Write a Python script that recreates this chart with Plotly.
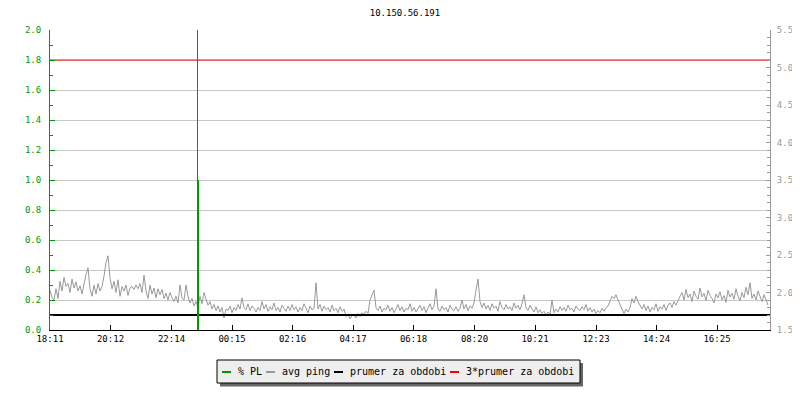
import pandas as pd
import plotly.graph_objects as go

title = "10.150.56.191"
start = "2024-01-01 18:11"
step_min = 4

# avg ping [ms], one sample every 4 minutes
avg_ping = [
    2.03, 1.93, 1.90, 2.05, 1.92,
    2.15, 2.02, 2.20, 2.08, 2.12, 2.00, 2.18, 2.06, 2.14, 2.02,
    2.09, 1.98, 2.12, 2.24, 2.33,
    2.05, 1.95, 2.10, 1.98, 2.12, 2.02, 2.08,
    2.22, 2.40, 2.49, 2.20,
    2.05, 2.15, 2.00, 2.17, 1.95, 2.08, 2.02, 2.10, 1.96,
    2.06, 2.08, 2.04, 2.10, 2.05, 2.12, 2.00, 2.23,
    2.02, 1.92, 2.10, 1.98, 2.06, 1.93, 2.05,
    1.97, 2.04, 1.92, 1.99, 1.90, 2.00, 1.93,
    1.88, 1.95, 1.86, 2.10, 1.93, 1.90,
    2.10, 1.95, 1.86, 1.92, 1.82, 1.88,
    1.80, 1.95, 1.85, 2.00, 1.90, 1.83,
    1.88, 1.78, 1.84, 1.76, 1.82, 1.74, 1.80, 1.66, 1.78, 1.76, 1.82, 1.73,
    1.80, 1.76, 1.84, 1.78, 1.93, 1.80, 1.77, 1.85, 1.76, 1.82, 1.79, 1.74, 1.80, 1.76, 1.88,
    1.78, 1.84, 1.75, 1.81, 1.77, 1.86, 1.76, 1.80, 1.74, 1.83, 1.78, 1.75, 1.82,
    1.76, 1.84, 1.77, 1.81, 1.74, 1.80, 1.76, 1.85, 1.78, 1.73, 1.82, 1.77, 1.79,
    2.13,
    1.78, 1.84, 1.75, 1.82, 1.77, 1.80, 1.74, 1.83, 1.76, 1.79, 1.73, 1.81, 1.75, 1.78,
    1.68, 1.71, 1.65, 1.69, 1.70, 1.66, 1.72, 1.68, 1.73, 1.71, 1.75, 1.72,
    1.90, 1.98, 2.03,
    1.80, 1.76, 1.82, 1.74, 1.79, 1.77, 1.83, 1.75, 1.80, 1.73, 1.78, 1.84, 1.76, 1.81, 1.74, 1.79, 1.77, 1.85, 1.75,
    1.80, 1.74, 1.78, 1.83, 1.76, 1.81, 1.73, 1.79, 1.85, 1.77, 1.82,
    2.05,
    1.78, 1.75, 1.82, 1.77, 1.80, 1.74, 1.83, 1.78, 1.76, 1.81, 1.75, 1.79,
    1.90,
    1.78, 1.84, 1.76, 1.82, 1.79, 1.86,
    2.03, 2.18,
    1.88, 1.80, 1.86, 1.78, 1.83, 1.76, 1.85, 1.79, 1.82, 1.75, 1.88, 1.80, 1.77, 1.84, 1.78, 1.81, 1.76, 1.86, 1.79, 1.83, 1.77,
    1.85, 1.97,
    1.80, 1.76, 1.83, 1.78, 1.74, 1.81, 1.73, 1.77, 1.72, 1.75, 1.70, 1.74, 1.71, 1.90, 1.73,
    1.78, 1.74, 1.81, 1.76, 1.80, 1.75, 1.83, 1.77, 1.79, 1.74, 1.82, 1.78,
    1.76, 1.81, 1.77, 1.84, 1.75, 1.80, 1.74, 1.78, 1.72, 1.76, 1.73, 1.79, 1.75, 1.80, 1.82,
    1.88, 1.95, 1.92, 1.97, 1.90, 1.84,
    1.76, 1.72, 1.78, 1.74, 1.80,
    1.92, 1.86, 1.95, 1.88, 1.82,
    1.78, 1.84, 1.76, 1.82, 1.74, 1.80, 1.77, 1.85, 1.75, 1.81, 1.78, 1.84, 1.76, 1.83,
    1.86, 1.80, 1.88, 1.83, 1.90,
    1.95, 2.00, 1.90, 2.04, 1.93, 1.98, 1.88, 2.02, 1.95, 1.91, 2.06, 1.94, 1.99, 1.89, 2.03, 1.96, 1.92, 1.86, 1.98, 1.93,
    2.01, 1.90, 1.96, 1.87, 2.03, 1.94, 1.99, 1.91, 2.05, 1.95, 1.89, 2.00, 1.93, 2.07, 1.97, 2.13, 1.92, 1.98, 1.90, 2.02,
    1.94, 1.88, 1.97, 1.91, 1.83,
]

prumer = 1.70          # prumer za obdobi [ms]
pl_times = ["2024-01-01 23:07"]
pl_values = [1.0]      # % PL

tick_labels = ["18:11", "20:12", "22:14", "00:15", "02:16", "04:17",
               "06:18", "08:20", "10:21", "12:23", "14:24", "16:25"]

GREEN = "#009900"
GREY = "#999999"
RED = "#ff0000"
BLACK = "#000000"
FONT = "DejaVu Sans Mono"

# page body has an 8px margin, so the figure is a bit smaller and shifted
OFF = 8
W, H = 800 - OFF, 400 - OFF
L, R, T, B = 50 - OFF, 30, 30 - OFF, 70
PW, PH = W - L - R, H - T - B


def px(x):
    # screen pixel -> paper x
    return (x - OFF - L) / PW


def py(y):
    # screen pixel -> paper y
    return (H - B - (y - OFF)) / PH


times = pd.date_range(start, periods=len(avg_ping), freq=f"{step_min}min")
t0 = pd.Timestamp(start)
t_end = t0 + pd.Timedelta(hours=24)

# tick positions from the HH:MM labels, rolling over midnight
tickvals = []
day = t0.normalize()
prev = None
for lab in tick_labels:
    t = day + pd.Timedelta(lab + ":00")
    if prev is not None and t < prev:
        day += pd.Timedelta(days=1)
        t += pd.Timedelta(days=1)
    tickvals.append(t)
    prev = t

fig = go.Figure()
# ping series on the base (right, ms) axis
fig.add_trace(go.Scatter(x=times, y=avg_ping, name="avg ping",
                         mode="lines", line=dict(color=GREY, width=1)))
fig.add_trace(go.Scatter(x=[t0, t_end], y=[prumer, prumer], name="prumer za obdobi",
                         mode="lines", line=dict(color=BLACK, width=2)))
fig.add_trace(go.Scatter(x=[t0, t_end], y=[3 * prumer, 3 * prumer],
                         name="3*prumer za obdobi", mode="lines",
                         line=dict(color=RED, width=1)))
# packet loss on the overlaid left axis, drawn on top
fig.add_trace(go.Bar(x=pl_times, y=pl_values, name="% PL", yaxis="y2",
                     width=step_min * 60 * 1000, marker=dict(color=GREEN, line=dict(width=0))))

# thin full-height rule on the left edge of each packet-loss bar
for t in pl_times:
    tr = pd.Timestamp(t) - pd.Timedelta(minutes=step_min / 4)
    fig.add_shape(type="line", x0=tr, x1=tr, yref="paper", y0=0, y1=1,
                  line=dict(color=GREEN, width=1), layer="above")

# hand-drawn legend box with shadow
fig.add_shape(type="rect", xref="paper", yref="paper",
              x0=px(220), x1=px(583), y0=py(363), y1=py(386.5),
              fillcolor="#666666", line=dict(width=0))
fig.add_shape(type="rect", xref="paper", yref="paper",
              x0=px(217), x1=px(580), y0=py(360), y1=py(383),
              fillcolor="#eeeeee", line=dict(color=BLACK, width=1))
legend_items = [("% PL", GREEN, 222, 236), ("avg ping", GREY, 266, 280),
                ("prumer za obdobi", BLACK, 334, 348),
                ("3*prumer za obdobi", RED, 450, 464)]
for name, color, sx, tx in legend_items:
    fig.add_shape(type="line", xref="paper", yref="paper",
                  x0=px(sx), x1=px(sx + 9), y0=py(372), y1=py(372),
                  line=dict(color=color, width=2))
    fig.add_annotation(text=name, xref="paper", yref="paper", x=px(tx), y=py(371.5),
                       xanchor="left", yanchor="middle", showarrow=False,
                       font=dict(family=FONT, size=10, color=BLACK))

fig.update_layout(
    width=W, height=H,
    margin=dict(l=L, r=R, t=T, b=B, autoexpand=False),
    paper_bgcolor="white", plot_bgcolor="white",
    showlegend=False,
    font=dict(family=FONT, size=9, color=BLACK),
    title=dict(text=title, xref="container", x=(405 - OFF) / W, xanchor="center",
               yref="container", y=1 - (13 - OFF) / H, yanchor="middle",
               font=dict(family=FONT, size=9, color=BLACK)),
    xaxis=dict(type="date", range=[t0, t_end], tickvals=tickvals, ticktext=tick_labels,
               ticks="inside", ticklen=5, tickcolor=BLACK, showline=True,
               linecolor=BLACK, linewidth=1, showgrid=False, zeroline=False,
               automargin=False,
               tickfont=dict(family=FONT, size=9, color=BLACK)),
    yaxis=dict(range=[1.5, 5.5], dtick=0.5, tickformat=".1f",
               side="right", ticks="inside", ticklen=4, tickcolor=GREY,
               showline=True, linecolor=GREY, linewidth=1, showgrid=False,
               zeroline=False, automargin=False,
               minor=dict(dtick=0.1, ticks="inside", ticklen=3, tickcolor=GREY,
                          showgrid=False),
               tickfont=dict(family=FONT, size=9, color=GREY), ticklabelstandoff=4),
    yaxis2=dict(range=[0, 2], dtick=0.2, tickformat=".1f", overlaying="y", side="left",
                ticks="inside", ticklen=5, tickcolor=GREEN, showline=True,
                linecolor=GREEN, linewidth=1, showgrid=True,
                gridcolor="#c8c8c8", gridwidth=1, zeroline=False, automargin=False,
                minor=dict(dtick=0.1, ticks="inside", ticklen=3, tickcolor=GREEN,
                           showgrid=False),
                tickfont=dict(family=FONT, size=9, color=GREEN), ticklabelstandoff=6),
)

fig.write_html("out.html")
